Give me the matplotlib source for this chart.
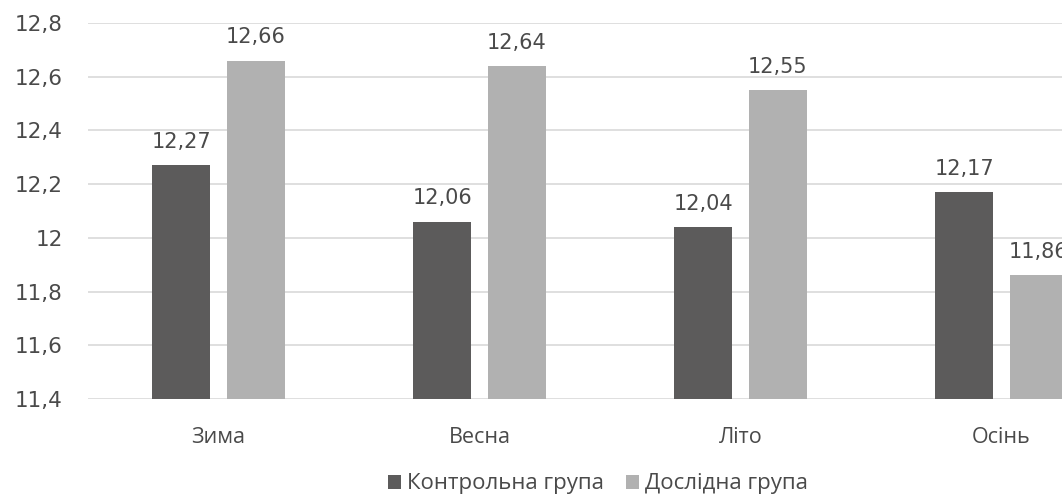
import matplotlib.pyplot as plt
import numpy as np

seasons = ["Зима", "Весна", "Літо", "Осінь"]
control = [12.27, 12.06, 12.04, 12.17]
experimental = [12.66, 12.64, 12.55, 11.86]
series_names = ["Контрольна група", "Дослідна група"]
yticks = [11.4, 11.6, 11.8, 12.0, 12.2, 12.4, 12.6, 12.8]

dark = "#5c5b5b"
light = "#b1b1b1"
text_c = "#4a4a4a"
num_font = ["DejaVu Sans"]

plt.rcParams["font.family"] = ["Open Sans", "DejaVu Sans"]

fig = plt.figure(figsize=(10.62, 4.95), dpi=100)
# plot area runs past the right edge of the figure
ax = fig.add_axes([88 / 1062, 96 / 495, 1044 / 1062, 376 / 495])

x = np.arange(len(seasons))
w = 0.222
off = 0.143
b1 = ax.bar(x - off, control, w, color=dark, zorder=3, label=series_names[0])
b2 = ax.bar(x + off, experimental, w, color=light, zorder=3, label=series_names[1])

for bars, vals in ((b1, control), (b2, experimental)):
    for r, v in zip(bars, vals):
        ax.text(r.get_x() + r.get_width() / 2, v + 0.05, f"{v:.2f}".replace(".", ","),
                ha="center", va="bottom", fontsize=15, color=text_c, family=num_font)

ax.set_xlim(-0.5, len(seasons) - 0.5)
ax.set_ylim(11.4, 12.8)
ax.set_yticks(yticks)
ax.set_yticklabels([f"{t:g}".replace(".", ",") for t in yticks], fontsize=15.5,
                   color=text_c, family=num_font)
ax.set_xticks(x)
ax.set_xticklabels(seasons, fontsize=15.5, color=text_c)
ax.tick_params(axis="both", length=0)
ax.tick_params(axis="y", pad=18)
ax.tick_params(axis="x", pad=20)
ax.grid(axis="y", color="#d9d9d9", linewidth=1.2, zorder=0)
for s in ax.spines.values():
    s.set_visible(False)

fig.legend(handles=[b1, b2], loc="center", bbox_to_anchor=(598 / 1062, 1 - 484 / 495),
           ncol=2, frameon=False, fontsize=16, handlelength=0.6, handleheight=0.6,
           handletextpad=0.25, columnspacing=1.0, labelcolor=text_c)

fig.savefig("out.png", dpi=100)
